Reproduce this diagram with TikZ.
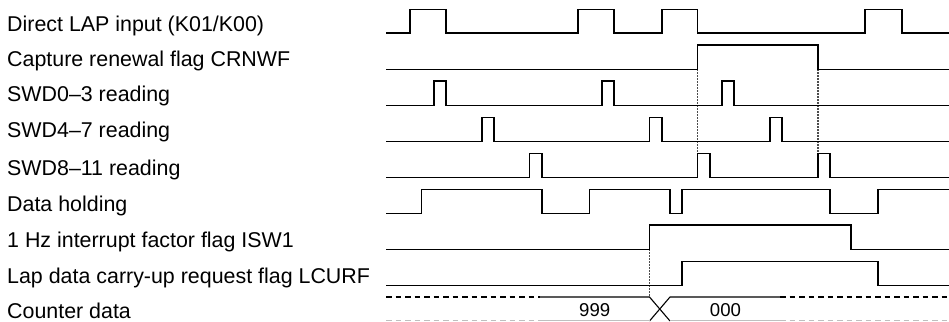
\documentclass[tikz,border=0pt]{standalone}
\usepackage{fontspec}
\setmainfont{Liberation Sans}
\begin{document}
\begin{tikzpicture}[x=1pt,y=-1pt,
  wave/.style={line width=1.1pt,black,line join=miter},
  guide/.style={line width=1.2pt,black!70,dash pattern=on 1.5pt off 1.5pt},
  bus/.style={line width=1.1pt,black},
  busdash/.style={line width=1.1pt,black,dash pattern=on 5.5pt off 4pt},
  lbl/.style={anchor=base west,inner sep=0pt,font=\fontsize{21.4}{24}\selectfont},
  val/.style={anchor=base,inner sep=0pt,font=\fontsize{18.6}{21}\selectfont}]
\useasboundingbox (0,0) rectangle (949,321);
% labels
\node[lbl] (l1) at (7,31.7) {Direct LAP input (K01/K00)};
\node[lbl] (l2) at (7,66.7) {Capture renewal flag CRNWF};
\node[lbl] (l3) at (7,101.7) {SWD0–3 reading};
\node[lbl] (l4) at (7,137) {SWD4–7 reading};
\node[lbl] (l5) at (7,175) {SWD8–11 reading};
\node[lbl] (l6) at (7,211.7) {Data holding};
\node[lbl] (l7) at (7,247) {1 Hz interrupt factor flag ISW1};
\node[lbl] (l8) at (7,283) {Lap data carry-up request flag LCURF};
\node[lbl] (l9) at (7,318) {Counter data};
% guides
\draw[guide] (697.5,69.3) -- (697.5,153.3);
\draw[guide] (818,69.3) -- (818,153.3);
\draw[guide] (649.5,249.3) -- (649.5,297);
% waveforms
\draw[wave] (386,33) -| (410,9.3) -| (446,33) -| (578,9.3) -| (614,33) -| (662,9.3) -| (697.5,33) -| (865,9.3) -| (902,33) -- (949,33);
\draw[wave] (386,69.3) -| (697.5,45) -| (818,69.3) -- (949,69.3);
\draw[wave] (386,105.5) -| (434,81) -| (446,105.5) -| (602,81) -| (614,105.5) -| (722,81) -| (734,105.5) -- (949,105.5);
\draw[wave] (386,141.7) -| (482,117.3) -| (494,141.7) -| (649.5,117.3) -| (662,141.7) -| (770,117.3) -| (782,141.7) -- (949,141.7);
\draw[wave] (386,177.3) -| (529.5,153.3) -| (542,177.3) -| (697.5,153.3) -| (710,177.3) -| (818,153.3) -| (830,177.3) -- (949,177.3);
\draw[wave] (386,213.3) -| (421.7,189.3) -| (542,213.3) -| (589.5,189.3) -| (670,213.3) -| (682,189.3) -| (830,213.3) -| (878,189.3) -- (949,189.3);
\draw[wave] (386,249.3) -| (649.5,225) -| (851,249.3) -- (949,249.3);
\draw[wave] (386,285.3) -| (682,261.3) -| (878,285.3) -- (949,285.3);
% counter bus
\coordinate (xa) at (649.5,297);
\coordinate (xb) at (670,297);
\coordinate (xc) at (649.5,321);
\coordinate (xd) at (670,321);
\draw[busdash] (386,297) -- (540,297);
\draw[bus] (540,297) -- (xa) -- (xd);
\draw[bus] (xc) -- (xb) -- (780,297);
\draw[busdash] (780,297) -- (949,297);
\draw[busdash,black!25] (386,320.3) -- (540,320.3);
\draw[bus,black!25] (540,320.3) -- (649.5,320.3);
\draw[bus,black!25] (670,320.3) -- (780,320.3);
\draw[busdash,black!25] (780,320.3) -- (949,320.3);
\node[val] (v1) at (594.7,316.7) {999};
\node[val] (v2) at (725.5,316.7) {000};
\end{tikzpicture}
\end{document}
